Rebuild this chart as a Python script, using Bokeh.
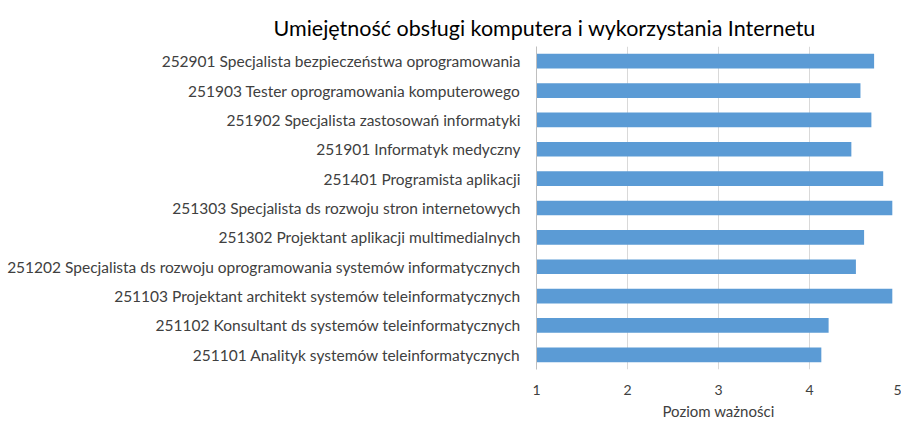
from bokeh.plotting import figure
from bokeh.models import FactorRange, Range1d, FixedTicker, Title
from bokeh.embed import file_html
from bokeh.resources import INLINE

occupations = [
    "252901 Specjalista bezpieczeństwa oprogramowania",
    "251903 Tester oprogramowania komputerowego",
    "251902 Specjalista zastosowań informatyki",
    "251901 Informatyk medyczny",
    "251401 Programista aplikacji",
    "251303 Specjalista ds rozwoju stron internetowych",
    "251302 Projektant aplikacji multimedialnych",
    "251202 Specjalista ds rozwoju oprogramowania systemów informatycznych",
    "251103 Projektant architekt systemów teleinformatycznych",
    "251102 Konsultant ds systemów teleinformatycznych",
    "251101 Analityk systemów teleinformatycznych",
]
values = [4.71, 4.56, 4.68, 4.46, 4.81, 4.91, 4.60, 4.51, 4.91, 4.21, 4.13]
x_ticks = [1, 2, 3, 4, 5]

FONT = "Lato"

p = figure(
    width=901, height=422,
    y_range=FactorRange(factors=occupations[::-1], range_padding=0),
    x_range=Range1d(1, 5),
    output_backend="svg", toolbar_location=None,
    min_border_left=536, min_border_right=1, min_border_top=46, min_border_bottom=40,
)
p.title = None
t = Title(text="Umiejętność obsługi komputera i wykorzystania Internetu",
          align="left", offset=-263, text_font=FONT, text_font_size="21.5px",
          text_font_style="normal", text_color="#000000", standoff=11)
p.add_layout(t, "above")

p.hbar(y=occupations, right=values, left=1, height=0.5, color="#5b9bd5", line_color=None)

p.outline_line_color = None
p.ygrid.grid_line_color = None
p.xgrid.grid_line_color = "#d9d9d9"
p.xgrid.ticker = FixedTicker(ticks=x_ticks)

p.xaxis.ticker = FixedTicker(ticks=x_ticks)
p.xaxis.axis_line_color = None
p.xaxis.major_tick_line_color = None
p.xaxis.minor_tick_line_color = None
p.xaxis.major_label_text_font = FONT
p.xaxis.major_label_text_font_size = "14px"
p.xaxis.major_label_text_color = "#404040"
p.xaxis.major_label_standoff = 9
p.xaxis.axis_label = "Poziom ważności"
p.xaxis.axis_label_text_font = FONT
p.xaxis.axis_label_text_font_size = "15px"
p.xaxis.axis_label_text_font_style = "normal"
p.xaxis.axis_label_text_color = "#404040"
p.xaxis.axis_label_standoff = 4

p.yaxis.axis_line_color = "#bfbfbf"
p.yaxis.major_tick_line_color = None
p.yaxis.minor_tick_line_color = None
p.yaxis.major_label_text_font = FONT
p.yaxis.major_label_text_font_size = "15.5px"
p.yaxis.major_label_text_color = "#404040"
p.yaxis.major_label_standoff = 10

open("out.html", "w").write(file_html(p, INLINE))
